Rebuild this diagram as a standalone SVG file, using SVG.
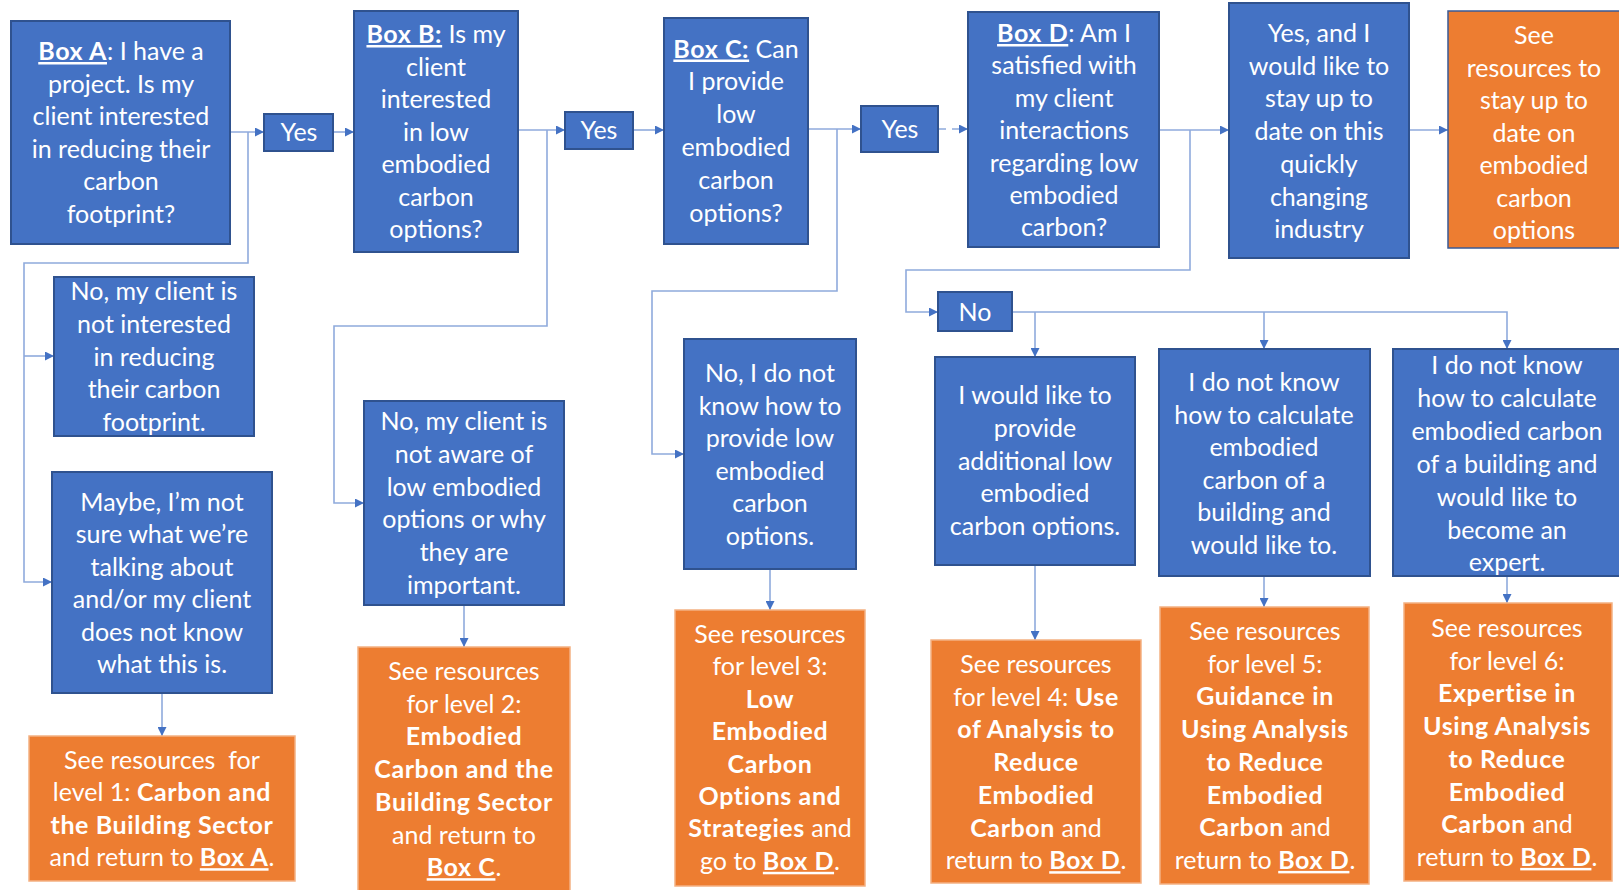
<svg xmlns="http://www.w3.org/2000/svg" width="1619" height="890" viewBox="0 0 1619 890">
<defs>
<style>
.b{fill:#4472C4;stroke:#2F528F;stroke-width:2}
.o{fill:#ED7D31;stroke:#F4B183;stroke-width:1.5}
.o2{fill:#ED7D31;stroke:#3A5A95;stroke-width:1.5}
text{font-family:Lato,"Open Sans",sans-serif;font-size:25px;fill:#fff;text-anchor:middle}
.k{font-weight:bold;letter-spacing:0.6px}
.u{text-decoration:underline}
.c{fill:none;stroke:#8FAADC;stroke-width:1.6}
.d{stroke-dasharray:8 6}
</style>
<marker id="ar" viewBox="0 0 10 10" refX="10" refY="5" markerWidth="9" markerHeight="9" markerUnits="userSpaceOnUse" orient="auto">
<path d="M0,0 L10,5 L0,10 z" fill="#4472C4"/>
</marker>
</defs>
<rect width="1619" height="890" fill="#fff"/>
<g id="connectors">
<path class="c" d="M230,132 H264" marker-end="url(#ar)"/>
<path class="c" d="M248,132 V263 H24 V582 H52" marker-end="url(#ar)"/>
<path class="c" d="M24,356 H54" marker-end="url(#ar)"/>
<path class="c" d="M333,132 H354" marker-end="url(#ar)"/>
<path class="c" d="M518,130 H565" marker-end="url(#ar)"/>
<path class="c" d="M547,130 V326 H334 V503 H364" marker-end="url(#ar)"/>
<path class="c" d="M633,130 H664" marker-end="url(#ar)"/>
<path class="c" d="M808,129 H861" marker-end="url(#ar)"/>
<path class="c" d="M837,129 V291 H652 V454 H684" marker-end="url(#ar)"/>
<path class="c d" d="M938,129 H968" marker-end="url(#ar)"/>
<path class="c" d="M1159,130 H1229" marker-end="url(#ar)"/>
<path class="c" d="M1190,130 V270 H906 V312 H938" marker-end="url(#ar)"/>
<path class="c" d="M1409,130 H1448" marker-end="url(#ar)"/>
<path class="c" d="M1012,312 H1507 V349" marker-end="url(#ar)"/>
<path class="c" d="M1035,312 V357" marker-end="url(#ar)"/>
<path class="c" d="M1264,312 V349" marker-end="url(#ar)"/>
<path class="c" d="M162,693 V736" marker-end="url(#ar)"/>
<path class="c" d="M464,605 V647" marker-end="url(#ar)"/>
<path class="c" d="M770,569 V610" marker-end="url(#ar)"/>
<path class="c" d="M1035,565 V640" marker-end="url(#ar)"/>
<path class="c" d="M1264,576 V607" marker-end="url(#ar)"/>
<path class="c" d="M1507,576 V603" marker-end="url(#ar)"/>
</g>
<g id="boxA">
<rect class="b" x="11" y="21" width="219" height="223"/>
<text><tspan x="121" y="60"><tspan class="k u">Box A</tspan>: I have a</tspan><tspan x="121" y="92.6">project. Is my</tspan><tspan x="121" y="125.2">client interested</tspan><tspan x="121" y="157.8">in reducing their</tspan><tspan x="121" y="190.4">carbon</tspan><tspan x="121" y="223">footprint?</tspan></text>
</g>
<g id="yes1">
<rect class="b" x="264" y="114" width="69" height="37"/>
<text x="299" y="141">Yes</text>
</g>
<g id="boxB">
<rect class="b" x="354" y="11" width="164" height="241"/>
<text><tspan x="436" y="43"><tspan class="k u">Box B:</tspan> Is my</tspan><tspan x="436" y="75.5">client</tspan><tspan x="436" y="108">interested</tspan><tspan x="436" y="140.5">in low</tspan><tspan x="436" y="173">embodied</tspan><tspan x="436" y="205.5">carbon</tspan><tspan x="436" y="238">options?</tspan></text>
</g>
<g id="yes2">
<rect class="b" x="565" y="112" width="68" height="37"/>
<text x="599" y="139">Yes</text>
</g>
<g id="boxC">
<rect class="b" x="664" y="18" width="144" height="226"/>
<text><tspan x="736" y="57.5"><tspan class="k u">Box C:</tspan> Can</tspan><tspan x="736" y="90.3">I provide</tspan><tspan x="736" y="123.1">low</tspan><tspan x="736" y="155.9">embodied</tspan><tspan x="736" y="188.7">carbon</tspan><tspan x="736" y="221.5">options?</tspan></text>
</g>
<g id="yes3">
<rect class="b" x="861" y="106" width="77" height="46"/>
<text x="900" y="138">Yes</text>
</g>
<g id="boxD">
<rect class="b" x="968" y="12" width="191" height="235"/>
<text><tspan x="1064" y="42"><tspan class="k u">Box D</tspan>: Am I</tspan><tspan x="1064" y="74.4">satisfied with</tspan><tspan x="1064" y="106.8">my client</tspan><tspan x="1064" y="139.2">interactions</tspan><tspan x="1064" y="171.6">regarding low</tspan><tspan x="1064" y="204">embodied</tspan><tspan x="1064" y="236.4">carbon?</tspan></text>
</g>
<g id="boxE">
<rect class="b" x="1229" y="3" width="180" height="255"/>
<text><tspan x="1319" y="42">Yes, and I</tspan><tspan x="1319" y="74.7">would like to</tspan><tspan x="1319" y="107.4">stay up to</tspan><tspan x="1319" y="140.1">date on this</tspan><tspan x="1319" y="172.8">quickly</tspan><tspan x="1319" y="205.5">changing</tspan><tspan x="1319" y="238.2">industry</tspan></text>
</g>
<g id="boxF">
<rect class="o2" x="1448" y="11" width="175" height="237"/>
<text><tspan x="1534" y="44">See</tspan><tspan x="1534" y="76.5">resources to</tspan><tspan x="1534" y="109">stay up to</tspan><tspan x="1534" y="141.5">date on</tspan><tspan x="1534" y="174">embodied</tspan><tspan x="1534" y="206.5">carbon</tspan><tspan x="1534" y="239">options</tspan></text>
</g>
<g id="noA1">
<rect class="b" x="54" y="277" width="200" height="159"/>
<text><tspan x="154" y="300">No, my client is</tspan><tspan x="154" y="332.8">not interested</tspan><tspan x="154" y="365.6">in reducing</tspan><tspan x="154" y="398.4">their carbon</tspan><tspan x="154" y="431.2">footprint.</tspan></text>
</g>
<g id="maybeA">
<rect class="b" x="52" y="472" width="220" height="221"/>
<text><tspan x="162" y="511">Maybe, I’m not</tspan><tspan x="162" y="543.4">sure what we’re</tspan><tspan x="162" y="575.8">talking about</tspan><tspan x="162" y="608.2">and/or my client</tspan><tspan x="162" y="640.6">does not know</tspan><tspan x="162" y="673">what this is.</tspan></text>
</g>
<g id="level1">
<rect class="o" x="29" y="736" width="266" height="145"/>
<text><tspan x="162" y="769">See resources&#160; for</tspan><tspan x="162" y="801.4">level 1: <tspan class="k">Carbon and</tspan></tspan><tspan x="162" y="833.8" class="k">the Building Sector</tspan><tspan x="162" y="866.2">and return to <tspan class="k u">Box A</tspan>.</tspan></text>
</g>
<g id="noB">
<rect class="b" x="364" y="401" width="200" height="204"/>
<text><tspan x="464" y="430">No, my client is</tspan><tspan x="464" y="462.8">not aware of</tspan><tspan x="464" y="495.6">low embodied</tspan><tspan x="464" y="528.4">options or why</tspan><tspan x="464" y="561.2">they are</tspan><tspan x="464" y="594">important.</tspan></text>
</g>
<g id="level2">
<rect class="o" x="358" y="647" width="212" height="250"/>
<text><tspan x="464" y="680">See resources</tspan><tspan x="464" y="712.7">for level 2:</tspan><tspan x="464" y="745.4" class="k">Embodied</tspan><tspan x="464" y="778.1" class="k">Carbon and the</tspan><tspan x="464" y="810.8" class="k">Building Sector</tspan><tspan x="464" y="843.5">and return to</tspan><tspan x="464" y="876.2"><tspan class="k u">Box C</tspan>.</tspan></text>
</g>
<g id="noC">
<rect class="b" x="684" y="339" width="172" height="230"/>
<text><tspan x="770" y="382">No, I do not</tspan><tspan x="770" y="414.6">know how to</tspan><tspan x="770" y="447.2">provide low</tspan><tspan x="770" y="479.8">embodied</tspan><tspan x="770" y="512.4">carbon</tspan><tspan x="770" y="545">options.</tspan></text>
</g>
<g id="level3">
<rect class="o" x="675" y="610" width="190" height="276"/>
<text><tspan x="770" y="643">See resources</tspan><tspan x="770" y="675.4">for level 3:</tspan><tspan x="770" y="707.8" class="k">Low</tspan><tspan x="770" y="740.2" class="k">Embodied</tspan><tspan x="770" y="772.6" class="k">Carbon</tspan><tspan x="770" y="805" class="k">Options and</tspan><tspan x="770" y="837.4"><tspan class="k">Strategies</tspan> and</tspan><tspan x="770" y="869.8">go to <tspan class="k u">Box D</tspan>.</tspan></text>
</g>
<g id="noD">
<rect class="b" x="938" y="292" width="74" height="39"/>
<text x="975" y="321">No</text>
</g>
<g id="d1">
<rect class="b" x="935" y="357" width="200" height="208"/>
<text><tspan x="1035" y="404">I would like to</tspan><tspan x="1035" y="436.8">provide</tspan><tspan x="1035" y="469.6">additional low</tspan><tspan x="1035" y="502.4">embodied</tspan><tspan x="1035" y="535.2">carbon options.</tspan></text>
</g>
<g id="level4">
<rect class="o" x="931" y="640" width="210" height="243"/>
<text><tspan x="1036" y="673">See resources</tspan><tspan x="1036" y="705.7">for level 4: <tspan class="k">Use</tspan></tspan><tspan x="1036" y="738.4" class="k">of Analysis to</tspan><tspan x="1036" y="771.1" class="k">Reduce</tspan><tspan x="1036" y="803.8" class="k">Embodied</tspan><tspan x="1036" y="836.5"><tspan class="k">Carbon</tspan> and</tspan><tspan x="1036" y="869.2">return to <tspan class="k u">Box D</tspan>.</tspan></text>
</g>
<g id="d2">
<rect class="b" x="1159" y="349" width="211" height="227"/>
<text><tspan x="1264" y="391">I do not know</tspan><tspan x="1264" y="423.6">how to calculate</tspan><tspan x="1264" y="456.2">embodied</tspan><tspan x="1264" y="488.8">carbon of a</tspan><tspan x="1264" y="521.4">building and</tspan><tspan x="1264" y="554">would like to.</tspan></text>
</g>
<g id="level5">
<rect class="o" x="1160" y="607" width="209" height="277"/>
<text><tspan x="1265" y="640">See resources</tspan><tspan x="1265" y="672.7">for level 5:</tspan><tspan x="1265" y="705.4" class="k">Guidance in</tspan><tspan x="1265" y="738.1" class="k">Using Analysis</tspan><tspan x="1265" y="770.8" class="k">to Reduce</tspan><tspan x="1265" y="803.5" class="k">Embodied</tspan><tspan x="1265" y="836.2"><tspan class="k">Carbon</tspan> and</tspan><tspan x="1265" y="868.9">return to <tspan class="k u">Box D</tspan>.</tspan></text>
</g>
<g id="d3">
<rect class="b" x="1393" y="349" width="230" height="227"/>
<text><tspan x="1507" y="374">I do not know</tspan><tspan x="1507" y="406.9">how to calculate</tspan><tspan x="1507" y="439.8">embodied carbon</tspan><tspan x="1507" y="472.7">of a building and</tspan><tspan x="1507" y="505.6">would like to</tspan><tspan x="1507" y="538.5">become an</tspan><tspan x="1507" y="571.4">expert.</tspan></text>
</g>
<g id="level6">
<rect class="o" x="1404" y="603" width="208" height="278"/>
<text><tspan x="1507" y="637">See resources</tspan><tspan x="1507" y="669.7">for level 6:</tspan><tspan x="1507" y="702.4" class="k">Expertise in</tspan><tspan x="1507" y="735.1" class="k">Using Analysis</tspan><tspan x="1507" y="767.8" class="k">to Reduce</tspan><tspan x="1507" y="800.5" class="k">Embodied</tspan><tspan x="1507" y="833.2"><tspan class="k">Carbon</tspan> and</tspan><tspan x="1507" y="865.9">return to <tspan class="k u">Box D</tspan>.</tspan></text>
</g>
</svg>
